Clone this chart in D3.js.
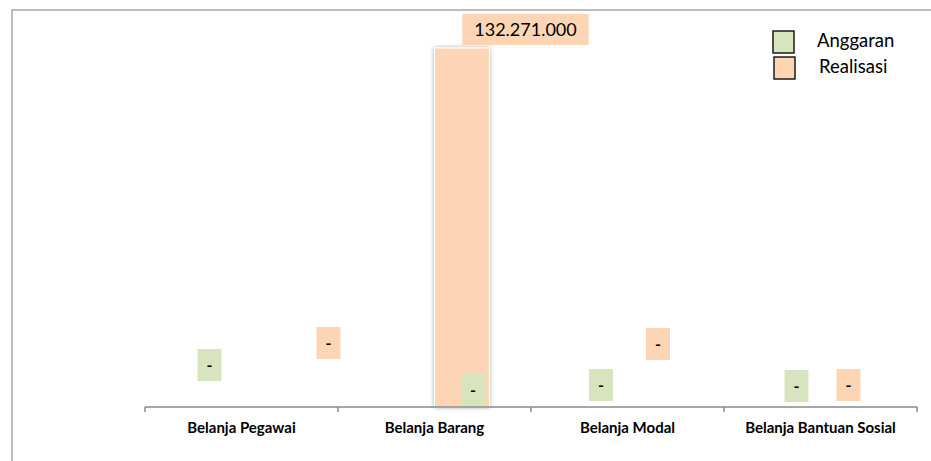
<!DOCTYPE html>
<html>
<head>
<meta charset="utf-8">
<script src="https://cdn.jsdelivr.net/npm/d3@7"></script>
<style>
  body { margin: 0; background: #fff; }
  svg { display: block; font-family: Lato, "Open Sans", sans-serif; }
</style>
</head>
<body>
<div id="vis"></div>
<script>
const categories = ["Belanja Pegawai", "Belanja Barang", "Belanja Modal", "Belanja Bantuan Sosial"];
const seriesNames = ["Anggaran", "Realisasi"];
const anggaran = [0, 0, 0, 0];
const realisasi = [0, 132271000, 0, 0];
const colors = ["#d7e4bd", "#fcd5b5"];

// label boxes were dragged around by hand in the original, offsets from bar top-centre
const labelOffsets = [
  [[-4.5, -42], [59.5, -64]],
  [[66, -17], [63.5, -18.5]],
  [[1, -22], [3, -63]],
  [[3.5, -21], [0.5, -22]]
];

const W = 931, H = 461;
const locale = d3.formatLocale({ decimal: ",", thousands: ".", grouping: [3], currency: ["Rp", ""] });
const fmt = v => v === 0 ? "-" : locale.format(",.0f")(v);

const svg = d3.select("#vis").append("svg").attr("width", W).attr("height", H);

const defs = svg.append("defs");
const f = defs.append("filter").attr("id", "shadow").attr("x", "-30%").attr("y", "-10%").attr("width", "160%").attr("height", "120%");
f.append("feDropShadow").attr("dx", 0).attr("dy", 0).attr("stdDeviation", 2).attr("flood-color", "#000").attr("flood-opacity", 0.35);

// chart frame (only top and left visible)
svg.append("path")
  .attr("d", `M12,${H} V10 H${W}`)
  .attr("fill", "none").attr("stroke", "#a6a6a6").attr("stroke-width", 1.5);

const x0 = d3.scaleBand().domain(categories).range([145, 917]).padding(0);
const bw = x0.bandwidth();
const x1 = d3.scaleBand().domain(seriesNames).range([bw * 0.215, bw * 0.785]).padding(0);
const y = d3.scaleLinear().domain([0, d3.max(realisasi)]).range([407, 48]);

const rows = categories.map((c, i) => ({ cat: c, i, values: [anggaran[i], realisasi[i]] }));

const groups = svg.selectAll("g.grp").data(rows).enter().append("g")
  .attr("class", "grp")
  .attr("transform", d => `translate(${x0(d.cat)},0)`);

groups.selectAll("rect").data(d => d.values.map((v, j) => ({ v, j })).filter(e => e.v > 0))
  .enter().append("rect")
  .attr("x", e => x1(seriesNames[e.j]))
  .attr("y", e => y(e.v))
  .attr("width", x1.bandwidth())
  .attr("height", e => y(0) - y(e.v))
  .attr("fill", e => colors[e.j])
  .attr("stroke", "#fff").attr("stroke-width", 1)
  .attr("filter", "url(#shadow)");

// axis
const axis = svg.append("g").attr("transform", "translate(0,407)");
axis.append("line").attr("x1", 145).attr("x2", 917).attr("stroke", "#898989").attr("stroke-width", 1.5);
axis.selectAll("line.tick").data(categories.concat([null])).enter().append("line")
  .attr("class", "tick")
  .attr("x1", (d, i) => i < categories.length ? x0(d) : x0.range()[1])
  .attr("x2", (d, i) => i < categories.length ? x0(d) : x0.range()[1])
  .attr("y1", 0).attr("y2", 5)
  .attr("stroke", "#898989").attr("stroke-width", 1.5);
axis.selectAll("text").data(categories).enter().append("text")
  .attr("x", d => x0(d) + bw / 2)
  .attr("y", 26)
  .attr("text-anchor", "middle")
  .attr("font-size", 15).attr("font-weight", "bold").attr("fill", "#000")
  .text(d => d);

// data labels with filled boxes
rows.forEach(r => {
  r.values.forEach((v, j) => {
    const cx = x0(r.cat) + x1(seriesNames[j]) + x1.bandwidth() / 2 + labelOffsets[r.i][j][0];
    const cy = y(v) + labelOffsets[r.i][j][1];
    const g = svg.append("g").attr("transform", `translate(${cx},${cy})`);
    const big = v !== 0;
    const t = g.append("text")
      .attr("text-anchor", "middle").attr("dy", "0.35em")
      .attr("font-size", big ? 18 : 16).attr("font-weight", big ? "normal" : "bold")
      .attr("fill", "#000")
      .text(fmt(v));
    const tw = t.node().getComputedTextLength();
    const bwid = big ? tw + 24 : 24;
    const bh = big ? 31 : 32;
    g.insert("rect", "text")
      .attr("x", -bwid / 2).attr("y", -bh / 2)
      .attr("width", bwid).attr("height", bh)
      .attr("fill", colors[j]);
  });
});

// legend
const legend = svg.append("g");
seriesNames.forEach((s, i) => {
  legend.append("rect")
    .attr("x", 773 + i).attr("y", 31 + i * 26)
    .attr("width", 21).attr("height", 22)
    .attr("fill", colors[i]).attr("stroke", "#1a1a1a").attr("stroke-width", 1.5);
  legend.append("text")
    .attr("x", 817 + i * 2).attr("y", 47 + i * 26)
    .attr("font-size", 18.5).attr("fill", "#000")
    .text(s);
});
</script>
</body>
</html>
